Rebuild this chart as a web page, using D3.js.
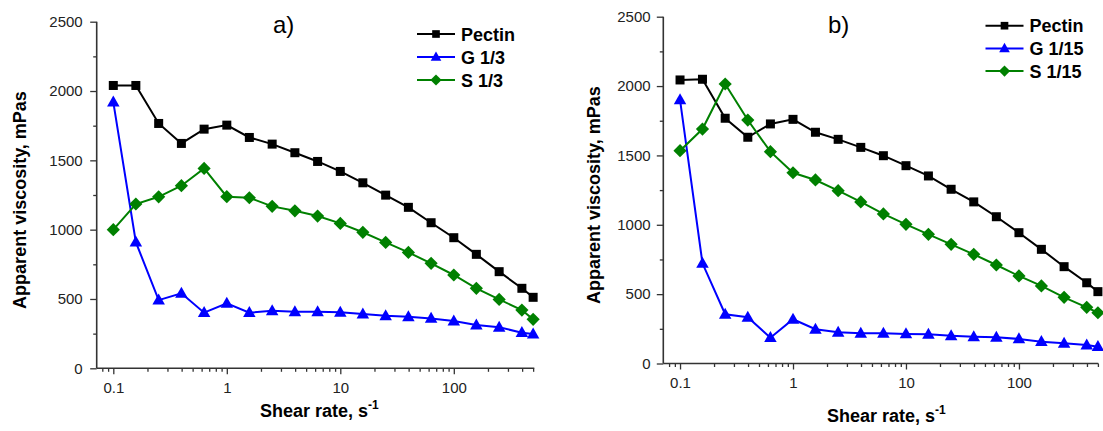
<!DOCTYPE html>
<html>
<head>
<meta charset="utf-8">
<script src="https://cdn.jsdelivr.net/npm/d3@7/dist/d3.min.js"></script>
<style>
  html, body { margin: 0; padding: 0; background: #fff; }
  svg { display: block; font-family: "Liberation Sans", Arial, sans-serif; }
</style>
</head>
<body>
<svg id="chart" width="1103" height="431"></svg>
<script>
// ---- Data ----
const shearRate = [0.1, 0.158, 0.251, 0.398, 0.631, 1, 1.58, 2.51, 3.98, 6.31, 10, 15.8, 25.1, 39.8, 63.1, 100, 158, 251, 398, 500];

const pectinA = [2040, 2040, 1766, 1622, 1725, 1754, 1665, 1617, 1555, 1492, 1420, 1338, 1249, 1161, 1050, 942, 822, 697, 577, 512];
const g13     = [1920, 910, 492, 541, 401, 469, 401, 415, 408, 408, 404, 391, 379, 372, 360, 341, 312, 296, 257, 247];
const s13     = [1000, 1185, 1237, 1317, 1442, 1238, 1230, 1168, 1136, 1098, 1045, 981, 908, 836, 757, 673, 577, 497, 420, 353];

const pectinB = [2044, 2049, 1768, 1631, 1727, 1760, 1667, 1616, 1558, 1498, 1426, 1352, 1256, 1165, 1058, 943, 823, 698, 582, 518];
const g115    = [1900, 722, 355, 333, 186, 319, 247, 225, 218, 218, 213, 210, 200, 193, 189, 177, 157, 146, 133, 121];
const s115    = [1534, 1690, 2015, 1755, 1527, 1375, 1323, 1246, 1165, 1078, 1003, 931, 859, 787, 710, 631, 559, 477, 405, 366];

const yTicks = [0, 500, 1000, 1500, 2000, 2500];
const xTickLabels = [0.1, 1, 10, 100];
const panelTitles = ["a)", "b)"];
const legendA = ["Pectin", "G 1/3", "S 1/3"];
const legendB = ["Pectin", "G 1/15", "S 1/15"];

// ---- Layout ----
const svg = d3.select("#chart");
const COLORS = ["#000000", "#0000ff", "#008000"];
const SHAPES = ["square", "triangle", "diamond"];

const panels = [
  {
    x0: 96.7, x1: 534.3, y0: 368.3, y1: 21.7, xDom: [0.0714, 512],
    series: [pectinA, g13, s13], legend: legendA, title: panelTitles[0],
    titlePos: [273, 33], legPos: [417, 34, 23], yLabX: 26, xLabX: 260, xLabY: 417, yTickGap: 14
  },
  {
    x0: 663.3, x1: 1098.3, y0: 363.5, y1: 16.7, xDom: [0.0711, 504],
    series: [pectinB, g115, s115], legend: legendB, title: panelTitles[1],
    titlePos: [828, 33], legPos: [985.5, 25.7, 22.7], yLabX: 600, xLabX: 827, xLabY: 422, yTickGap: 12.7
  }
];

function marker(sel, shape, color, scale) {
  const k = scale || 1;
  if (shape === "square") {
    sel.append("rect").attr("x", -4.5 * k).attr("y", -4.5 * k).attr("width", 9 * k).attr("height", 9 * k).attr("fill", color);
  } else if (shape === "triangle") {
    const h = 11 * k, w = 12.5 * k;
    sel.append("path").attr("d", `M0,${-h * 0.6}L${w / 2},${h * 0.4}L${-w / 2},${h * 0.4}Z`).attr("fill", color);
  } else {
    const r = 6.6 * k;
    sel.append("path").attr("d", `M0,${-r}L${r},0L0,${r}L${-r},0Z`).attr("fill", color);
  }
}

panels.forEach(p => {
  const x = d3.scaleLog().domain(p.xDom).range([p.x0, p.x1]);
  const y = d3.scaleLinear().domain([0, 2500]).range([p.y0, p.y1]);
  const g = svg.append("g");

  // minor x ticks
  const minorX = [];
  [0.01, 0.1, 1, 10, 100].forEach(dec => {
    for (let m = 2; m <= 9; m++) {
      const v = dec * m;
      if (v >= p.xDom[0] && v <= p.xDom[1]) minorX.push(v);
    }
  });
  const minorY = [250, 750, 1250, 1750, 2250];

  // X axis (major)
  const xAxis = g.append("g").attr("transform", `translate(0,${p.y0})`)
    .call(d3.axisBottom(x).tickValues(xTickLabels).tickSize(6).tickPadding(8)
      .tickFormat(d => d3.format("~g")(d)));
  g.append("g").attr("transform", `translate(0,${p.y0})`)
    .call(d3.axisBottom(x).tickValues(minorX).tickSize(3.5).tickFormat(""))
    .select(".domain").remove();

  // Y axis
  const yAxis = g.append("g").attr("transform", `translate(${p.x0},0)`)
    .call(d3.axisLeft(y).tickValues(yTicks).tickSize(6.5).tickPadding(p.yTickGap - 6.5)
      .tickFormat(d3.format("d")));
  g.append("g").attr("transform", `translate(${p.x0},0)`)
    .call(d3.axisLeft(y).tickValues(minorY).tickSize(3.5).tickFormat(""))
    .select(".domain").remove();

  g.selectAll(".domain").attr("stroke", "#333").attr("stroke-width", 1.6);
  g.selectAll(".tick line").attr("stroke", "#333").attr("stroke-width", 1.3);
  g.selectAll(".tick text").attr("font-size", 15).attr("fill", "#222")
    .attr("font-family", '"Liberation Sans", Arial, sans-serif');
  xAxis.select(".domain").attr("d", `M${p.x0},0H${p.x1}`);
  yAxis.select(".domain").attr("d", `M0,${p.y0}V${p.y1}`);

  // series
  p.series.forEach((vals, si) => {
    const pts = shearRate.map((s, i) => [x(s), y(vals[i])]);
    g.append("path").attr("d", d3.line()(pts)).attr("fill", "none")
      .attr("stroke", COLORS[si]).attr("stroke-width", 2);
    pts.forEach(pt => {
      const m = g.append("g").attr("transform", `translate(${pt[0]},${pt[1]})`);
      marker(m, SHAPES[si], COLORS[si]);
    });
  });

  // axis labels
  g.append("text").attr("transform", `translate(${p.yLabX},${(p.y0 + p.y1) / 2 + 5}) rotate(-90)`)
    .attr("text-anchor", "middle").attr("font-size", 18).attr("font-weight", "bold")
    .text("Apparent viscosity, mPas");
  const xl = g.append("text").attr("x", p.xLabX).attr("y", p.xLabY)
    .attr("font-size", 18).attr("font-weight", "bold");
  xl.append("tspan").text("Shear rate, s");
  xl.append("tspan").attr("font-size", 12).attr("dy", -8).text("-1");

  // title
  g.append("text").attr("x", p.titlePos[0]).attr("y", p.titlePos[1])
    .attr("font-size", 24).text(p.title);

  // legend
  const [lx, ly, ld] = p.legPos;
  p.legend.forEach((name, i) => {
    const row = g.append("g").attr("transform", `translate(${lx},${ly + i * ld})`);
    row.append("line").attr("x1", 0).attr("x2", 38).attr("y1", 0).attr("y2", 0)
      .attr("stroke", COLORS[i]).attr("stroke-width", 2);
    const m = row.append("g").attr("transform", "translate(19,0)");
    marker(m, SHAPES[i], COLORS[i], 0.85);
    row.append("text").attr("x", 44).attr("y", 6.5).attr("font-size", 18)
      .attr("font-weight", "bold").text(name);
  });
});
</script>
</body>
</html>
